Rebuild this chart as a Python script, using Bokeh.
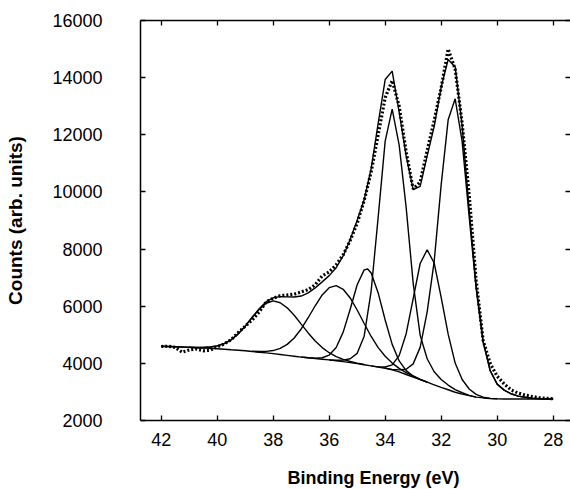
from bokeh.plotting import figure
from bokeh.models import Range1d, LinearAxis, Title, FixedTicker
from bokeh.embed import file_html
from bokeh.resources import INLINE

# ---- data (binding energy in eV, counts) ----
energy = [42.0, 41.75, 41.5, 41.25, 41.0, 40.75, 40.5, 40.25, 40.0, 39.75, 39.5, 39.25,
          39.0, 38.75, 38.5, 38.25, 38.0, 37.75, 37.5, 37.25, 37.0, 36.75, 36.5, 36.25,
          36.0, 35.75, 35.5, 35.25, 35.0, 34.75, 34.5, 34.25, 34.0, 33.75, 33.5, 33.25,
          33.0, 32.75, 32.5, 32.25, 32.0, 31.75, 31.5, 31.25, 31.0, 30.75, 30.5, 30.25,
          30.0, 29.75, 29.5, 29.25, 29.0, 28.75, 28.5, 28.25, 28.0]

measured = [4590, 4600, 4560, 4390, 4470, 4500, 4440, 4460, 4580, 4680, 4830, 5080,
            5300, 5520, 5800, 6150, 6280, 6370, 6390, 6420, 6500, 6580, 6750, 7060,
            7200, 7450, 7800, 8300, 8900, 9700, 10700, 12000, 13300, 13900, 13000, 11400,
            10100, 10350, 11450, 12500, 13650, 15000, 14300, 12400, 9900, 6900, 4800, 4000,
            3550, 3280, 3070, 2960, 2890, 2840, 2800, 2775, 2765]

envelope = [4600, 4590, 4580, 4570, 4563, 4556, 4555, 4571, 4610, 4689, 4825, 5032,
            5302, 5612, 5914, 6157, 6294, 6334, 6327, 6321, 6357, 6467, 6642, 6852,
            7071, 7346, 7760, 8335, 9009, 9724, 10825, 12403, 13933, 14230, 12793, 11261,
            10084, 10196, 11264, 12283, 13672, 14635, 14371, 12313, 9377, 6713, 4769, 3751,
            3274, 3063, 2935, 2853, 2812, 2781, 2765, 2755, 2752]

background = [4600, 4590, 4580, 4570, 4560, 4548, 4535, 4523, 4510, 4493, 4475, 4458,
              4440, 4415, 4390, 4365, 4340, 4310, 4280, 4250, 4220, 4195, 4170, 4145,
              4120, 4090, 4060, 4025, 3990, 3950, 3910, 3870, 3830, 3770, 3700, 3610,
              3520, 3430, 3340, 3250, 3160, 3075, 2990, 2925, 2870, 2820, 2790, 2770,
              2760, 2755, 2750, 2750, 2750, 2750, 2750, 2750, 2750]

peak_a_x = [41.0, 40.75, 40.5, 40.25, 40.0, 39.75, 39.5, 39.25, 39.0, 38.75, 38.5, 38.25,
            38.0, 37.75, 37.5, 37.25, 37.0, 36.75, 36.5, 36.25, 36.0, 35.75, 35.5, 35.25,
            35.0, 34.75]
peak_a_y = [4563, 4556, 4555, 4571, 4610, 4689, 4825, 5032, 5302, 5603, 5890, 6104,
            6186, 6121, 5943, 5682, 5373, 5065, 4784, 4552, 4372, 4236, 4140, 4066,
            4009, 3959]

peak_b_x = [38.75, 38.5, 38.25, 38.0, 37.75, 37.5, 37.25, 37.0, 36.75, 36.5, 36.25, 36.0,
            35.75, 35.5, 35.25, 35.0, 34.75, 34.5, 34.25, 34.0, 33.75, 33.5, 33.25, 33.0,
            32.75, 32.5]
peak_b_y = [4424, 4414, 4418, 4448, 4523, 4664, 4889, 5204, 5597, 6016, 6394, 6650,
            6720, 6593, 6289, 5868, 5394, 4941, 4551, 4248, 4009, 3826, 3673, 3549,
            3442, 3344]

peak_c_x = [37.0, 36.75, 36.5, 36.25, 36.0, 35.75, 35.5, 35.25, 35.0, 34.75, 34.625, 34.5,
            34.25, 34.0, 33.75, 33.5, 33.25, 33.0, 32.75, 32.5]
peak_c_y = [4220, 4198, 4182, 4196, 4289, 4552, 5093, 5895, 6751, 7271, 7302, 7164,
            6465, 5518, 4664, 4085, 3745, 3559, 3439, 3340]

peak_d_x = [36.0, 35.75, 35.5, 35.25, 35.0, 34.75, 34.5, 34.25, 34.0, 33.75, 33.5, 33.25,
            33.0, 32.75, 32.5, 32.25, 32.0, 31.75, 31.5, 31.25, 31.0, 30.75]
peak_d_y = [4120, 4108, 4114, 4160, 4351, 4950, 6540, 9120, 11780, 12900, 11640, 9450,
            6810, 4980, 4160, 3706, 3434, 3240, 3081, 2971, 2880, 2820]

peak_e_x = [34.5, 34.25, 34.0, 33.75, 33.5, 33.25, 33.0, 32.75, 32.5, 32.25, 32.0, 31.75,
            31.5, 31.25, 31.0, 30.75, 30.5, 30.25, 30.0]
peak_e_y = [3910, 3877, 3872, 3946, 4270, 5038, 6264, 7495, 7975, 7514, 6312, 5022,
            4010, 3435, 3102, 2913, 2818, 2775, 2760]

peak_f_x = [34.0, 33.75, 33.5, 33.25, 33.0, 32.75, 32.5, 32.25, 32.0, 31.75, 31.5, 31.25,
            31.0, 30.75, 30.5, 30.25, 30.0, 29.75, 29.5, 29.25, 29.0, 28.75, 28.5, 28.25,
            28.0]
peak_f_y = [3835, 3791, 3772, 3795, 3982, 4560, 5805, 7563, 10246, 12523, 13260, 11757,
            9135, 6620, 4741, 3746, 3274, 3063, 2935, 2853, 2812, 2781, 2765, 2755,
            2752]

x_ticks = [42, 40, 38, 36, 34, 32, 30, 28]
y_ticks = [2000, 4000, 6000, 8000, 10000, 12000, 14000, 16000]

FONT = "Liberation Sans"

p = figure(frame_width=430, frame_height=400, output_backend="svg", toolbar_location=None,
           x_range=Range1d(42.74, 27.38), y_range=Range1d(2000, 16000),
           min_border_left=140, min_border_right=0, min_border_top=20,
           min_border_bottom=60)
p.grid.visible = False
p.outline_line_color = None
p.background_fill_color = "white"
p.border_fill_color = "white"


def style_axis(ax, ticks):
    ax.ticker = FixedTicker(ticks=ticks)
    ax.major_tick_in = 5
    ax.major_tick_out = 0
    ax.major_tick_line_color = "black"
    ax.major_tick_line_width = 1.3
    ax.minor_tick_line_color = None
    ax.minor_tick_out = 0
    ax.minor_tick_in = 0
    ax.axis_line_color = "black"
    ax.axis_line_width = 1.5
    ax.major_label_text_font = FONT
    ax.major_label_text_color = "black"
    ax.major_label_text_font_size = "18px"


def style_mirror(ax, ticks, show_line=True):
    # label-free mirrored ticks (drawn as minor ticks so no labels are made)
    ax.ticker = FixedTicker(ticks=[], minor_ticks=ticks)
    ax.major_tick_line_color = None
    ax.major_tick_in = 0
    ax.major_tick_out = 0
    ax.minor_tick_in = 5
    ax.minor_tick_out = 0
    ax.minor_tick_line_color = "black"
    ax.minor_tick_line_width = 1.3
    ax.axis_line_color = "black" if show_line else None
    ax.axis_line_width = 1.5
    ax.major_label_standoff = 0


xb = p.xaxis[0]
style_axis(xb, x_ticks)
xb.major_label_standoff = 12

yl = p.yaxis[0]
style_axis(yl, y_ticks)
yl.major_label_standoff = 38
yl.axis_label = "Counts (arb. units)"
yl.axis_label_text_font = FONT
yl.axis_label_text_font_size = "19px"
yl.axis_label_text_font_style = "bold"
yl.axis_label_text_color = "black"
yl.axis_label_standoff = 23

xt = LinearAxis()
style_mirror(xt, x_ticks)
p.add_layout(xt, "above")

yr = LinearAxis()
style_mirror(yr, y_ticks, show_line=False)
p.add_layout(yr, "right")

xlabel = Title(text="Binding Energy (eV)", align="left", offset=147,
               text_font=FONT, text_font_size="18px", text_font_style="bold",
               text_color="black", standoff=34)
p.add_layout(xlabel, "below")

LW = 1.4
p.line(energy, background, line_color="black", line_width=LW)
for xs, ys in [(peak_a_x, peak_a_y), (peak_b_x, peak_b_y), (peak_c_x, peak_c_y),
               (peak_d_x, peak_d_y), (peak_e_x, peak_e_y), (peak_f_x, peak_f_y)]:
    p.line(xs, ys, line_color="black", line_width=LW)
p.line(energy, envelope, line_color="black", line_width=LW)
p.line(energy, measured, line_color="black", line_width=3.2, line_dash="2 2")

open("out.html", "w").write(file_html(p, INLINE))
